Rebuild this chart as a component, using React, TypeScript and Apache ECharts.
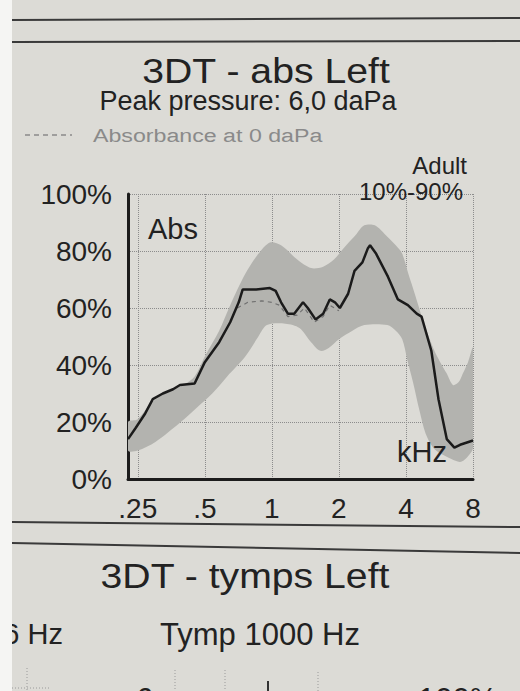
import React, { useEffect, useRef } from 'react';
import * as echarts from 'echarts';

// Frequency axis (kHz)
const FREQ_TICKS = [0.25, 0.5, 1, 2, 4, 8];
const FREQ_TICK_LABELS = ['.25', '.5', '1', '2', '4', '8'];
const Y_TICKS = [0, 20, 40, 60, 80, 100];

// Measured absorbance (solid line)
const ABS_FREQ = [0.226, 0.245, 0.27, 0.292, 0.324, 0.36, 0.387, 0.45, 0.5, 0.58, 0.65, 0.71, 0.74, 0.85, 0.98, 1.04, 1.1, 1.18, 1.26, 1.38, 1.45, 1.57, 1.7, 1.82, 1.92, 2.02, 2.2, 2.35, 2.55, 2.7, 2.76, 2.94, 3.32, 3.68, 4.08, 4.47, 4.7, 5.2, 5.6, 6.1, 6.6, 7.0, 8.0];
const ABS_VALUES = [14, 18, 23, 28, 30, 31.5, 33, 33.5, 41, 48, 55, 62, 66.5, 66.5, 67, 66, 62, 58, 58, 62, 60, 56, 58, 63, 62, 60, 65, 73, 76, 81, 82, 79, 71, 63, 61, 58, 57, 45, 28, 14, 11, 12, 13.5];

// Absorbance at 0 daPa (dashed line)
const ZERO_FREQ = [0.7, 0.78, 0.9, 1.0, 1.08, 1.18, 1.3, 1.4, 1.55, 1.7, 1.82, 2.0];
const ZERO_VALUES = [60, 62, 62.5, 62, 61, 57, 57.5, 60, 55, 57, 61, 59];

// Adult norm band 10%-90%
const P90_FREQ = [0.226, 0.25, 0.29, 0.33, 0.4, 0.45, 0.5, 0.58, 0.65, 0.76, 0.87, 0.98, 1.1, 1.3, 1.5, 1.7, 1.9, 2.1, 2.4, 2.6, 2.9, 3.3, 3.6, 3.85, 4.1, 4.3, 4.5, 4.8, 5.3, 5.7, 6.1, 6.5, 6.9, 7.2, 7.6, 8.0];
const P90_VALUES = [20, 21, 27, 30, 33, 36, 43, 52, 61, 72, 79, 83, 82, 77, 74, 74.5, 77, 81, 86, 89, 89, 85, 82, 79, 72, 67, 62, 55, 46, 41, 37, 33, 34, 37, 41, 46];
const P10_FREQ = [0.226, 0.25, 0.3, 0.39, 0.46, 0.54, 0.63, 0.76, 0.87, 0.95, 1.15, 1.33, 1.5, 1.65, 1.8, 2.0, 2.3, 2.6, 3.3, 3.6, 3.85, 4.05, 4.3, 4.6, 4.9, 5.3, 5.7, 6.4, 7.0, 7.5, 8.0];
const P10_VALUES = [10, 10, 13, 20, 25, 30, 36, 43, 50, 54, 54.5, 53, 48, 45, 46, 49, 52, 54, 54, 52, 49, 42, 34, 24, 16, 11, 9, 7, 6, 7.5, 11];

const FONT = '"Liberation Sans", Arial, sans-serif';
const INK = '#222222';

function txt(text: string, x: number, y: number, size: number, align: string, vAlign: string, extra: any = {}) {
  return {
    type: 'text',
    x,
    y,
    z: 10,
    ...extra,
    style: {
      text,
      x: 0,
      y: 0,
      fill: extra.fill || INK,
      font: `${size}px ${FONT}`,
      fontSize: size,
      fontFamily: FONT,
      align,
      verticalAlign: vAlign,
      textAlign: align,
      textVerticalAlign: vAlign,
    },
  };
}

export default function App() {
  const ref = useRef<HTMLDivElement>(null);

  useEffect(() => {
    if (!ref.current) return;
    const chart = echarts.init(ref.current, null, { renderer: 'svg' });

    const absData = ABS_FREQ.map((f, i) => [f, ABS_VALUES[i]]);
    const zeroData = ZERO_FREQ.map((f, i) => [f, ZERO_VALUES[i]]);
    const upper = P90_FREQ.map((f, i) => [f, P90_VALUES[i]]);
    const lower = P10_FREQ.map((f, i) => [f, P10_VALUES[i]]);

    const fmtFreq = (v: number) => {
      for (let i = 0; i < FREQ_TICKS.length; i++) {
        if (Math.abs(v - FREQ_TICKS[i]) / FREQ_TICKS[i] < 0.01) return FREQ_TICK_LABELS[i];
      }
      return '';
    };

    const option: any = {
      animation: false,
      backgroundColor: '#dcdbd6',
      grid: {
        left: 128,
        right: 47,
        top: 194,
        bottom: 212,
        containLabel: false,
        outerBoundsMode: 'none',
      },
      xAxis: {
        type: 'log',
        logBase: 2,
        min: 0.226,
        max: 8,
        axisLine: { show: true, lineStyle: { color: '#1c1c1c', width: 3 } },
        axisTick: { show: false },
        splitLine: { show: true, lineStyle: { type: 'dotted', color: '#8c8c8c', width: 1 } },
        axisLabel: {
          formatter: fmtFreq,
          fontSize: 28,
          fontFamily: FONT,
          color: INK,
          margin: 15,
          showMinLabel: true,
          showMaxLabel: true,
        },
      },
      yAxis: {
        type: 'value',
        min: Y_TICKS[0],
        max: Y_TICKS[Y_TICKS.length - 1],
        interval: 20,
        axisLine: { show: true, lineStyle: { color: '#1c1c1c', width: 3 } },
        axisTick: { show: false },
        splitLine: { show: true, lineStyle: { type: 'dotted', color: '#8c8c8c', width: 1 } },
        axisLabel: {
          formatter: '{value}%',
          fontSize: 28,
          fontFamily: FONT,
          color: INK,
          margin: 16,
        },
      },
      series: [
        {
          type: 'custom',
          name: 'Adult 10%-90%',
          data: upper,
          z: 1,
          clip: true,
          silent: true,
          renderItem: (params: any, api: any) => {
            if (params.dataIndex !== 0) return null;
            const pts: number[][] = [];
            upper.forEach((p) => pts.push(api.coord(p)));
            for (let i = lower.length - 1; i >= 0; i--) pts.push(api.coord(lower[i]));
            return {
              type: 'polygon',
              shape: { points: pts, smooth: 0.3 },
              style: { fill: '#b3b3af', stroke: 'none' },
            };
          },
        },
        {
          type: 'line',
          name: 'Absorbance at 0 daPa',
          data: zeroData,
          showSymbol: false,
          z: 2,
          lineStyle: { color: '#707070', width: 1.2, type: [4, 4] },
        },
        {
          type: 'line',
          name: 'Abs',
          data: absData,
          showSymbol: false,
          z: 3,
          lineStyle: { color: '#1b1b1b', width: 2.5 },
        },
      ],
      graphic: [
        // rule lines
        { type: 'line', z: 5, shape: { x1: 12, y1: 20, x2: 520, y2: 18 }, style: { stroke: '#3a3a3a', lineWidth: 2 } },
        { type: 'line', z: 5, shape: { x1: 12, y1: 42, x2: 520, y2: 41 }, style: { stroke: '#3a3a3a', lineWidth: 2 } },
        { type: 'line', z: 5, shape: { x1: 12, y1: 522, x2: 520, y2: 527 }, style: { stroke: '#3a3a3a', lineWidth: 2 } },
        { type: 'line', z: 5, shape: { x1: 12, y1: 543, x2: 520, y2: 553 }, style: { stroke: '#3a3a3a', lineWidth: 2 } },
        txt('3DT - abs Left', 266, 71, 35, 'center', 'middle', { scaleX: 1.12 }),
        txt('Peak pressure: 6,0 daPa', 248, 101, 27, 'center', 'middle'),
        { type: 'line', z: 5, shape: { x1: 25, y1: 135, x2: 72, y2: 135 }, style: { stroke: '#8a8a8a', lineWidth: 1.5, lineDash: [5, 4] } },
        txt('Absorbance at 0 daPa', 93, 135, 19, 'left', 'middle', { scaleX: 1.22, fill: '#8a8a8a' }),
        txt('Adult', 467, 165, 24, 'right', 'middle'),
        txt('10%-90%', 463, 191, 24, 'right', 'middle'),
        txt('Abs', 148, 229, 29, 'left', 'middle'),
        txt('kHz', 397, 452, 29, 'left', 'middle'),
        // lower section
        txt('3DT - tymps Left', 245, 576, 35, 'center', 'middle', { scaleX: 1.12 }),
        txt('226 Hz', 63, 634, 29, 'right', 'middle'),
        txt('Tymp 1000 Hz', 260, 634, 31, 'center', 'middle'),
        txt('100%', 418, 684, 31, 'left', 'top'),
        txt('6', 136, 684, 31, 'left', 'top'),
        { type: 'line', z: 5, shape: { x1: 268, y1: 681, x2: 268, y2: 691 }, style: { stroke: '#333', lineWidth: 2 } },
        { type: 'line', z: 5, shape: { x1: 27, y1: 668, x2: 27, y2: 691 }, style: { stroke: '#9a9a9a', lineWidth: 1, lineDash: [1, 2] } },
        { type: 'line', z: 5, shape: { x1: 175, y1: 670, x2: 175, y2: 691 }, style: { stroke: '#9a9a9a', lineWidth: 1, lineDash: [1, 2] } },
        { type: 'line', z: 5, shape: { x1: 225, y1: 670, x2: 225, y2: 691 }, style: { stroke: '#9a9a9a', lineWidth: 1, lineDash: [1, 2] } },
        { type: 'line', z: 5, shape: { x1: 318, y1: 672, x2: 318, y2: 691 }, style: { stroke: '#9a9a9a', lineWidth: 1, lineDash: [1, 2] } },
        { type: 'line', z: 5, shape: { x1: 12, y1: 688, x2: 50, y2: 688 }, style: { stroke: '#9a9a9a', lineWidth: 1, lineDash: [1, 2] } },
        // white margin strip at left
        { type: 'rect', z: 20, shape: { x: 0, y: 0, width: 12, height: 691 }, style: { fill: '#f5f5f3' } },
      ],
    };

    chart.setOption(option);
    return () => chart.dispose();
  }, []);

  return (
    <div
      ref={ref}
      style={{ position: 'fixed', left: 0, top: 0, width: 520, height: 691 }}
    />
  );
}
